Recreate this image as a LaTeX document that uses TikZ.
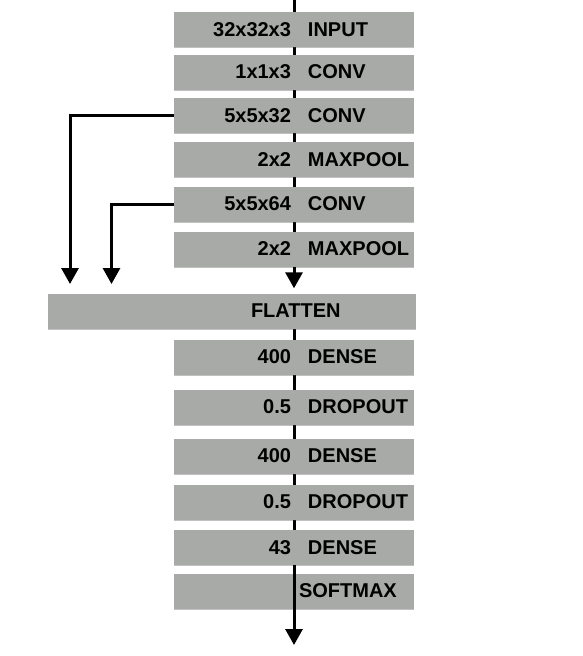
\documentclass[tikz,border=0pt]{standalone}
\usepackage{fontspec}
\setmainfont{Liberation Sans}
\usepackage{tikz}
\usetikzlibrary{arrows.meta,shadows,backgrounds}

\definecolor{layergray}{RGB}{168,170,167}
\newcommand{\layertext}[2]{\makebox[117pt][r]{#1}\hspace{17pt}\makebox[106pt][l]{#2}}

\tikzset{
  layer/.style={fill=layergray, inner sep=0pt, minimum width=240pt, minimum height=35pt,
    font=\fontsize{20}{24}\selectfont\bfseries,
    drop shadow={shadow xshift=0.3pt, shadow yshift=-1.2pt, opacity=0.35, fill=black!70}},
  flow/.style={line width=3pt},
  flowarrow/.style={flow, -{Triangle[width=17pt,length=16pt]}}
}

\begin{document}
\begin{tikzpicture}[x=1pt,y=-1pt]
\useasboundingbox (0,0) rectangle (583,656);
\node[layer] (input) at (294,29.5) {\layertext{32x32x3}{INPUT}};
\node[layer] (conv1) at (294,72) {\layertext{1x1x3}{CONV}};
\node[layer] (conv2) at (294,115.5) {\layertext{5x5x32}{CONV}};
\node[layer] (pool1) at (294,159.5) {\layertext{2x2}{MAXPOOL}};
\node[layer] (conv3) at (294,204) {\layertext{5x5x64}{CONV}};
\node[layer] (pool2) at (294,249) {\layertext{2x2}{MAXPOOL}};
\node[layer, minimum width=368pt] (flatten) at (232,311) {\makebox[368pt][l]{\hspace{203pt}FLATTEN}};
\node[layer] (dense1) at (294,357) {\layertext{400}{DENSE}};
\node[layer] (drop1) at (294,407) {\layertext{0.5}{DROPOUT}};
\node[layer] (dense2) at (294,456) {\layertext{400}{DENSE}};
\node[layer] (drop2) at (294,502) {\layertext{0.5}{DROPOUT}};
\node[layer] (dense3) at (294,547.5) {\layertext{43}{DENSE}};
\node[layer] (softmax) at (294,591) {\makebox[240pt][l]{\hspace{125pt}SOFTMAX}};
\coordinate (top) at (294,0);
\coordinate (out) at (294,645);
\coordinate (skipA) at (70,284);
\coordinate (skipB) at (111.5,284);
\begin{pgfonlayer}{background}
\draw[flow] (top) -- (pool2.center);
\draw[flow] (dense1 |- flatten.south) -- (dense3.center);
\end{pgfonlayer}
\draw[flowarrow, shorten >=5pt] (pool2.south) -- (pool2.south |- flatten.north);
\draw[flowarrow] (conv2.west) -| (skipA);
\draw[flowarrow] (conv3.west) -| (skipB);
\draw[flowarrow] (dense3.south) -- (out);
\end{tikzpicture}
\end{document}
